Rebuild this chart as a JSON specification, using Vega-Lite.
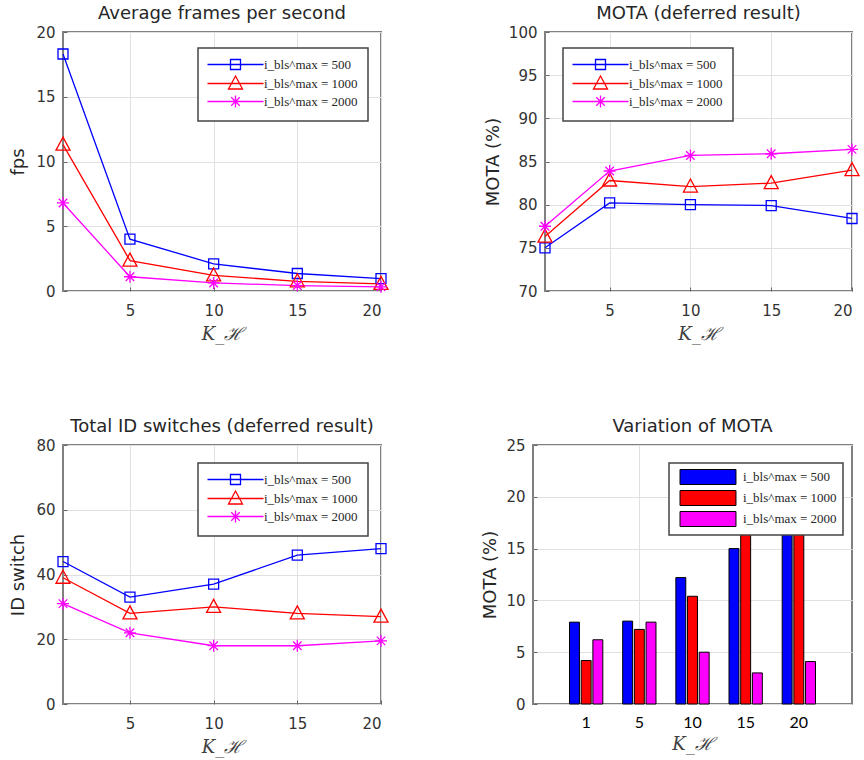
{
  "$schema": "https://vega.github.io/schema/vega-lite/v6.json",
  "background": "white",
  "padding": {"left": 8, "top": 4, "right": 5, "bottom": 5},
  "config": {
    "font": "DejaVu Sans",
    "view": {"stroke": "#808080", "strokeWidth": 2},
    "axis": {
      "grid": true, "gridColor": "#e0e0e0", "gridWidth": 1, "domain": false,
      "ticks": true, "tickSize": -4, "tickColor": "#666666", "tickWidth": 1,
      "labelFont": "DejaVu Sans", "labelFontSize": 15, "labelColor": "#333333", "labelPadding": 12,
      "titleFont": "DejaVu Sans", "titleFontSize": 18, "titleFontWeight": "normal", "titleColor": "#262626"
    },
    "axisX": {"labelPadding": 16},
    "title": {"font": "DejaVu Sans", "fontSize": 18, "fontWeight": "normal", "color": "#262626", "offset": 2},
    "legend": {
      "orient": "none", "title": null, "fillColor": "white", "strokeColor": "#444444",
      "padding": 10, "rowPadding": 0, "symbolOpacity": 1,
      "labelFont": "Liberation Serif", "labelFontSize": 13, "labelColor": "#262626"
    }
  },
  "datasets": {
    "lines": [
      {"metric": "fps", "K": 1, "series": "500", "value": 18.3},
      {"metric": "fps", "K": 5, "series": "500", "value": 4.0},
      {"metric": "fps", "K": 10, "series": "500", "value": 2.1},
      {"metric": "fps", "K": 15, "series": "500", "value": 1.35},
      {"metric": "fps", "K": 20, "series": "500", "value": 0.95},
      {"metric": "fps", "K": 1, "series": "1000", "value": 11.3},
      {"metric": "fps", "K": 5, "series": "1000", "value": 2.35},
      {"metric": "fps", "K": 10, "series": "1000", "value": 1.2},
      {"metric": "fps", "K": 15, "series": "1000", "value": 0.75},
      {"metric": "fps", "K": 20, "series": "1000", "value": 0.55},
      {"metric": "fps", "K": 1, "series": "2000", "value": 6.8},
      {"metric": "fps", "K": 5, "series": "2000", "value": 1.1},
      {"metric": "fps", "K": 10, "series": "2000", "value": 0.62},
      {"metric": "fps", "K": 15, "series": "2000", "value": 0.42},
      {"metric": "fps", "K": 20, "series": "2000", "value": 0.32},
      {"metric": "mota", "K": 1, "series": "500", "value": 75.0},
      {"metric": "mota", "K": 5, "series": "500", "value": 80.2},
      {"metric": "mota", "K": 10, "series": "500", "value": 80.0},
      {"metric": "mota", "K": 15, "series": "500", "value": 79.9},
      {"metric": "mota", "K": 20, "series": "500", "value": 78.4},
      {"metric": "mota", "K": 1, "series": "1000", "value": 76.3},
      {"metric": "mota", "K": 5, "series": "1000", "value": 82.8},
      {"metric": "mota", "K": 10, "series": "1000", "value": 82.1},
      {"metric": "mota", "K": 15, "series": "1000", "value": 82.5},
      {"metric": "mota", "K": 20, "series": "1000", "value": 84.0},
      {"metric": "mota", "K": 1, "series": "2000", "value": 77.5},
      {"metric": "mota", "K": 5, "series": "2000", "value": 83.9},
      {"metric": "mota", "K": 10, "series": "2000", "value": 85.7},
      {"metric": "mota", "K": 15, "series": "2000", "value": 85.9},
      {"metric": "mota", "K": 20, "series": "2000", "value": 86.4},
      {"metric": "idsw", "K": 1, "series": "500", "value": 44},
      {"metric": "idsw", "K": 5, "series": "500", "value": 33},
      {"metric": "idsw", "K": 10, "series": "500", "value": 37},
      {"metric": "idsw", "K": 15, "series": "500", "value": 46},
      {"metric": "idsw", "K": 20, "series": "500", "value": 48},
      {"metric": "idsw", "K": 1, "series": "1000", "value": 39},
      {"metric": "idsw", "K": 5, "series": "1000", "value": 28},
      {"metric": "idsw", "K": 10, "series": "1000", "value": 30},
      {"metric": "idsw", "K": 15, "series": "1000", "value": 28},
      {"metric": "idsw", "K": 20, "series": "1000", "value": 27},
      {"metric": "idsw", "K": 1, "series": "2000", "value": 31},
      {"metric": "idsw", "K": 5, "series": "2000", "value": 22},
      {"metric": "idsw", "K": 10, "series": "2000", "value": 18},
      {"metric": "idsw", "K": 15, "series": "2000", "value": 18},
      {"metric": "idsw", "K": 20, "series": "2000", "value": 19.5}
    ],
    "bars": [
      {"K": "1", "series": "500", "value": 7.9},
      {"K": "1", "series": "1000", "value": 4.2},
      {"K": "1", "series": "2000", "value": 6.2},
      {"K": "5", "series": "500", "value": 8.0},
      {"K": "5", "series": "1000", "value": 7.2},
      {"K": "5", "series": "2000", "value": 7.9},
      {"K": "10", "series": "500", "value": 12.2},
      {"K": "10", "series": "1000", "value": 10.4},
      {"K": "10", "series": "2000", "value": 5.0},
      {"K": "15", "series": "500", "value": 15.0},
      {"K": "15", "series": "1000", "value": 18.0},
      {"K": "15", "series": "2000", "value": 3.0},
      {"K": "20", "series": "500", "value": 19.0},
      {"K": "20", "series": "1000", "value": 17.5},
      {"K": "20", "series": "2000", "value": 4.1}
    ]
  },
  "resolve": {"scale": {"color": "independent", "shape": "independent"}, "legend": {"color": "independent", "shape": "independent"}},
  "bounds": "full",
  "spacing": 73,
  "vconcat": [
    {
      "bounds": "flush",
      "spacing": 164,
      "resolve": {"scale": {"color": "independent", "shape": "independent"}, "legend": {"color": "independent", "shape": "independent"}},
      "hconcat": [
        {
          "width": 318, "height": 259,
          "title": "Average frames per second",
          "data": {"name": "lines"},
          "transform": [{"filter": "datum.metric === 'fps'"}],
          "encoding": {
            "x": {"field": "K", "type": "quantitative", "scale": {"domain": [1, 20], "nice": false, "zero": false}, "axis": {"values": [5, 10, 15, 20], "title": "K_ℋ", "titleFont": "DejaVu Serif", "titleFontStyle": "italic", "titlePadding": 7, "titleColor": "#404040"}},
            "y": {"field": "value", "type": "quantitative", "scale": {"domain": [0, 20], "nice": false}, "axis": {"values": [0, 5, 10, 15, 20], "title": "fps", "titlePadding": 8}},
            "color": {"field": "series", "type": "nominal", "scale": {"domain": ["500", "1000", "2000"], "range": ["#0000ff", "#ff0000", "#ff00ff"]},
              "legend": {"legendX": 135, "legendY": 16, "labelExpr": "'i_bls^max = ' + datum.label", "symbolSize": 100, "symbolStrokeWidth": 1.3, "symbolOffset": 21, "labelOffset": 22, "encode": {"legend": {"update": {"strokeWidth": {"value": 1.5}}}, "symbols": {"update": {"fill": {"value": "transparent"}}}}}}
          },
          "layer": [
            {"mark": {"type": "line", "strokeWidth": 1.3}},
            {"mark": {"type": "point", "filled": false, "opacity": 0},
             "encoding": {"shape": {"field": "series", "type": "nominal", "scale": {"domain": ["500", "1000", "2000"], "range": ["M-5.6,0H5.6M-1,-1H1V1H-1Z", "M-5.6,0H5.6M0,-1.5L1.4,1.1H-1.4Z", "M-5.6,0H5.6M0,-1.2V1.2M-0.85,-0.85L0.85,0.85M-0.85,0.85L0.85,-0.85"]},
               "legend": {"legendX": 135, "legendY": 16, "labelExpr": "'i_bls^max = ' + datum.label", "symbolSize": 100, "symbolStrokeWidth": 1.3, "symbolOffset": 21, "labelOffset": 22, "encode": {"legend": {"update": {"strokeWidth": {"value": 1.5}}}, "symbols": {"update": {"fill": {"value": "transparent"}}}}}}}},
            {"transform": [{"filter": "datum.series === '500'"}], "mark": {"type": "point", "filled": false, "size": 100, "strokeWidth": 1.3, "opacity": 1, "shape": "M-1,-1H1V1H-1Z"}},
            {"transform": [{"filter": "datum.series === '1000'"}], "mark": {"type": "point", "filled": false, "size": 100, "strokeWidth": 1.3, "opacity": 1, "shape": "M0,-1.5L1.4,1.1H-1.4Z"}},
            {"transform": [{"filter": "datum.series === '2000'"}], "mark": {"type": "point", "filled": false, "size": 100, "strokeWidth": 1.3, "opacity": 1, "shape": "M0,-1.2V1.2M-1.2,0H1.2M-0.85,-0.85L0.85,0.85M-0.85,0.85L0.85,-0.85"}}
          ]
        },
        {
          "width": 307, "height": 259,
          "title": "MOTA (deferred result)",
          "data": {"name": "lines"},
          "transform": [{"filter": "datum.metric === 'mota'"}],
          "encoding": {
            "x": {"field": "K", "type": "quantitative", "scale": {"domain": [1, 20], "nice": false, "zero": false}, "axis": {"values": [5, 10, 15, 20], "title": "K_ℋ", "titleFont": "DejaVu Serif", "titleFontStyle": "italic", "titlePadding": 7, "titleColor": "#404040"}},
            "y": {"field": "value", "type": "quantitative", "scale": {"domain": [70, 100], "nice": false, "zero": false}, "axis": {"values": [70, 75, 80, 85, 90, 95, 100], "title": "MOTA (%)", "titlePadding": 6}},
            "color": {"field": "series", "type": "nominal", "scale": {"domain": ["500", "1000", "2000"], "range": ["#0000ff", "#ff0000", "#ff00ff"]},
              "legend": {"legendX": 18, "legendY": 16, "labelExpr": "'i_bls^max = ' + datum.label", "symbolSize": 100, "symbolStrokeWidth": 1.3, "symbolOffset": 21, "labelOffset": 22, "encode": {"legend": {"update": {"strokeWidth": {"value": 1.5}}}, "symbols": {"update": {"fill": {"value": "transparent"}}}}}}
          },
          "layer": [
            {"mark": {"type": "line", "strokeWidth": 1.3}},
            {"mark": {"type": "point", "filled": false, "opacity": 0},
             "encoding": {"shape": {"field": "series", "type": "nominal", "scale": {"domain": ["500", "1000", "2000"], "range": ["M-5.6,0H5.6M-1,-1H1V1H-1Z", "M-5.6,0H5.6M0,-1.5L1.4,1.1H-1.4Z", "M-5.6,0H5.6M0,-1.2V1.2M-0.85,-0.85L0.85,0.85M-0.85,0.85L0.85,-0.85"]},
               "legend": {"legendX": 18, "legendY": 16, "labelExpr": "'i_bls^max = ' + datum.label", "symbolSize": 100, "symbolStrokeWidth": 1.3, "symbolOffset": 21, "labelOffset": 22, "encode": {"legend": {"update": {"strokeWidth": {"value": 1.5}}}, "symbols": {"update": {"fill": {"value": "transparent"}}}}}}}},
            {"transform": [{"filter": "datum.series === '500'"}], "mark": {"type": "point", "filled": false, "size": 100, "strokeWidth": 1.3, "opacity": 1, "shape": "M-1,-1H1V1H-1Z"}},
            {"transform": [{"filter": "datum.series === '1000'"}], "mark": {"type": "point", "filled": false, "size": 100, "strokeWidth": 1.3, "opacity": 1, "shape": "M0,-1.5L1.4,1.1H-1.4Z"}},
            {"transform": [{"filter": "datum.series === '2000'"}], "mark": {"type": "point", "filled": false, "size": 100, "strokeWidth": 1.3, "opacity": 1, "shape": "M0,-1.2V1.2M-1.2,0H1.2M-0.85,-0.85L0.85,0.85M-0.85,0.85L0.85,-0.85"}}
          ]
        }
      ]
    },
    {
      "bounds": "flush",
      "spacing": 152,
      "resolve": {"scale": {"color": "independent", "shape": "independent"}, "legend": {"color": "independent", "shape": "independent"}},
      "hconcat": [
        {
          "width": 318, "height": 259,
          "title": "Total ID switches (deferred result)",
          "data": {"name": "lines"},
          "transform": [{"filter": "datum.metric === 'idsw'"}],
          "encoding": {
            "x": {"field": "K", "type": "quantitative", "scale": {"domain": [1, 20], "nice": false, "zero": false}, "axis": {"values": [5, 10, 15, 20], "title": "K_ℋ", "titleFont": "DejaVu Serif", "titleFontStyle": "italic", "titlePadding": 7, "titleColor": "#404040"}},
            "y": {"field": "value", "type": "quantitative", "scale": {"domain": [0, 80], "nice": false}, "axis": {"values": [0, 20, 40, 60, 80], "title": "ID switch", "titlePadding": 8}},
            "color": {"field": "series", "type": "nominal", "scale": {"domain": ["500", "1000", "2000"], "range": ["#0000ff", "#ff0000", "#ff00ff"]},
              "legend": {"legendX": 135, "legendY": 18, "labelExpr": "'i_bls^max = ' + datum.label", "symbolSize": 100, "symbolStrokeWidth": 1.3, "symbolOffset": 21, "labelOffset": 22, "encode": {"legend": {"update": {"strokeWidth": {"value": 1.5}}}, "symbols": {"update": {"fill": {"value": "transparent"}}}}}}
          },
          "layer": [
            {"mark": {"type": "line", "strokeWidth": 1.3}},
            {"mark": {"type": "point", "filled": false, "opacity": 0},
             "encoding": {"shape": {"field": "series", "type": "nominal", "scale": {"domain": ["500", "1000", "2000"], "range": ["M-5.6,0H5.6M-1,-1H1V1H-1Z", "M-5.6,0H5.6M0,-1.5L1.4,1.1H-1.4Z", "M-5.6,0H5.6M0,-1.2V1.2M-0.85,-0.85L0.85,0.85M-0.85,0.85L0.85,-0.85"]},
               "legend": {"legendX": 135, "legendY": 18, "labelExpr": "'i_bls^max = ' + datum.label", "symbolSize": 100, "symbolStrokeWidth": 1.3, "symbolOffset": 21, "labelOffset": 22, "encode": {"legend": {"update": {"strokeWidth": {"value": 1.5}}}, "symbols": {"update": {"fill": {"value": "transparent"}}}}}}}},
            {"transform": [{"filter": "datum.series === '500'"}], "mark": {"type": "point", "filled": false, "size": 100, "strokeWidth": 1.3, "opacity": 1, "shape": "M-1,-1H1V1H-1Z"}},
            {"transform": [{"filter": "datum.series === '1000'"}], "mark": {"type": "point", "filled": false, "size": 100, "strokeWidth": 1.3, "opacity": 1, "shape": "M0,-1.5L1.4,1.1H-1.4Z"}},
            {"transform": [{"filter": "datum.series === '2000'"}], "mark": {"type": "point", "filled": false, "size": 100, "strokeWidth": 1.3, "opacity": 1, "shape": "M0,-1.2V1.2M-1.2,0H1.2M-0.85,-0.85L0.85,0.85M-0.85,0.85L0.85,-0.85"}}
          ]
        },
        {
          "width": 319, "height": 259,
          "title": "Variation of MOTA",
          "data": {"name": "bars"},
          "mark": {"type": "bar", "stroke": "black", "strokeWidth": 1},
          "encoding": {
            "x": {"field": "K", "type": "nominal", "sort": ["1", "5", "10", "15", "20"], "scale": {"paddingInner": 0, "paddingOuter": 0.5},
              "axis": {"labelAngle": 0, "labelFont": "Lato", "labelFontSize": 16, "labelColor": "black", "labelPadding": 10, "ticks": false, "gridColor": {"condition": {"test": "datum.value === '5'", "value": "#e0e0e0"}, "value": "transparent"}, "title": "K_ℋ", "titleFont": "DejaVu Serif", "titleFontStyle": "italic", "titlePadding": 5, "titleColor": "#404040"}},
            "xOffset": {"field": "series", "type": "nominal", "sort": ["500", "1000", "2000"], "scale": {"paddingInner": 0.15, "paddingOuter": 0.85}},
            "y": {"field": "value", "type": "quantitative", "scale": {"domain": [0, 25], "nice": false}, "axis": {"values": [0, 5, 10, 15, 20, 25], "title": "MOTA (%)", "titlePadding": 6}},
            "color": {"field": "series", "type": "nominal", "scale": {"domain": ["500", "1000", "2000"], "range": ["#0000ff", "#ff0000", "#ff00ff"]},
              "legend": {"legendX": 136, "legendY": 18, "labelExpr": "'i_bls^max = ' + datum.label", "padding": 6, "symbolSize": 225, "symbolType": "M-3.73,-1H3.73V1H-3.73Z", "symbolStrokeColor": "black", "symbolStrokeWidth": 1, "symbolOffset": 25, "labelOffset": 27, "rowPadding": 1,
                "encode": {"legend": {"update": {"strokeWidth": {"value": 1.5}}}, "symbols": {"update": {"stroke": {"value": "black"}, "shape": {"value": "M-3.73,-1H3.73V1H-3.73Z"}}}}}}
          }
        }
      ]
    }
  ]
}
